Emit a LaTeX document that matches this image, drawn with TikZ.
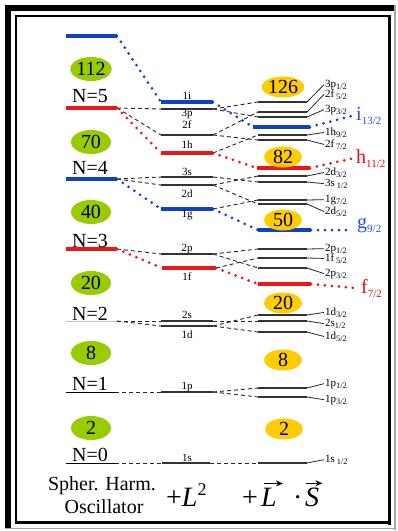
\documentclass[tikz,border=0pt]{standalone}
\usepackage{fontspec}
\setmainfont{Liberation Serif}
\usetikzlibrary{shapes.geometric,arrows.meta}
\definecolor{lvblue}{RGB}{16,64,200}
\definecolor{lvred}{RGB}{240,20,20}
\definecolor{labblue}{RGB}{40,80,225}
\definecolor{labred}{RGB}{245,10,10}
\definecolor{shgreen}{RGB}{153,204,0}
\definecolor{shyellow}{RGB}{255,204,0}
\newcommand{\lvl}[5]{%
  \coordinate (#1-l) at (#2,#4);
  \coordinate (#1-r) at (#3,#4);
  \draw[#5] (#1-l) -- (#1-r);}
\newcommand{\lsub}[1]{\raisebox{-2.5pt}{\fontsize{8.3}{8.3}\selectfont #1}}
\newcommand{\bsub}[1]{\raisebox{-4.5pt}{\fontsize{11}{11}\selectfont #1}}
\begin{document}
\begin{tikzpicture}[x=1pt,y=-1pt,
  lvthin/.style={draw=black!80, line width=1.3pt},
  lvb/.style={draw=lvblue, line width=4.5pt},
  lvr/.style={draw=lvred, line width=4.5pt},
  lvbo/.style={draw=lvblue, line width=3.5pt},
  lvro/.style={draw=lvred, line width=3.5pt},
  osc/.style={draw=black, line width=1pt},
  dashc/.style={draw=black!85, line width=0.9pt, dash pattern=on 4pt off 3pt},
  dotb/.style={draw=lvblue, line width=3pt, line cap=round, dash pattern=on 0pt off 7pt},
  dotr/.style={draw=lvred, line width=3pt, line cap=round, dash pattern=on 0pt off 7pt},
  tie/.style={draw=black!85, line width=0.8pt},
  labtwo/.style={anchor=base, inner sep=0pt, font=\fontsize{11}{11}\selectfont},
  labthree/.style={anchor=base west, inner sep=0pt, font=\fontsize{11}{11}\selectfont},
  big/.style={font=\fontsize{20}{20}\selectfont, inner sep=0pt},
  captxt/.style={font=\fontsize{28}{28}\selectfont, inner sep=0pt, anchor=base west},
  vecarrow/.style={draw=black, line width=1.3pt, -{Stealth[length=7pt,width=6pt]}},
  gshell/.style={ellipse, fill=shgreen, minimum width=40pt, minimum height=24pt, inner sep=0pt, font=\fontsize{20}{20}\selectfont},
  yshell/.style={ellipse, fill=shyellow, minimum width=38pt, minimum height=21pt, inner sep=0pt, font=\fontsize{20}{20}\selectfont}
]
\useasboundingbox (0,0) rectangle (398,531);
\fill[white] (0,0) rectangle (398,531);
% frame
\draw[line width=6pt] (5,8) -- (395,8);
\draw[line width=6pt] (8,5) -- (8,528);
\draw[black!35, line width=1.5pt] (395,5) -- (395,529.5);
\draw[black!35, line width=1.5pt] (5,528.5) -- (396,528.5);
\draw[line width=2pt] (15,16) -- (389.5,16);
\draw[line width=2pt] (16,15) -- (16,522.7);
\draw[line width=3.5pt] (389.5,14.5) -- (389.5,524.5);
\draw[line width=3.5pt] (15,522.7) -- (391.2,522.7);

% column 1
\lvl{o6}{66}{117}{36}{lvbo}
\lvl{o5}{66}{117}{108}{lvro}
\lvl{o4}{66}{117}{179}{lvbo}
\lvl{o3}{66}{117}{249}{lvro}
\lvl{o2}{66}{117}{321}{draw=black!25, line width=0.8pt}
\lvl{o1}{66}{115}{392}{osc}
\lvl{o0}{66}{115}{463}{osc}

% column 2
\lvl{a1i}{161}{213}{102}{lvb}
\lvl{a3p}{161}{213}{109}{lvthin}
\lvl{a2f}{161}{213}{135}{lvthin}
\lvl{a1h}{161}{213}{153}{lvr}
\lvl{a3s}{161}{213}{177}{lvthin}
\lvl{a2d}{161}{213}{185}{lvthin}
\lvl{a1g}{161}{213}{209}{lvb}
\lvl{a2p}{161}{213}{254}{lvthin}
\lvl{a1f}{162}{216}{268}{lvr}
\lvl{a2s}{161}{213}{321}{lvthin}
\lvl{a1d}{161}{213}{326}{lvthin}
\lvl{a1p}{161}{213}{392}{lvthin}
\lvl{a1s}{162}{210}{463}{lvthin}

% column 3
\lvl{b3p1}{258}{307}{102}{lvthin}
\lvl{b2f5}{258}{307}{112}{lvthin}
\lvl{b3p3}{258}{307}{117}{lvthin}
\lvl{bi13}{253}{310}{127}{lvb}
\lvl{b1h9}{258}{307}{135}{lvthin}
\lvl{b2f7}{258}{307}{140}{lvthin}
\lvl{bh11}{257}{310}{168}{lvr}
\lvl{b2d3}{258}{307}{176}{lvthin}
\lvl{b3s1}{258}{307}{182}{lvthin}
\lvl{b1g7}{258}{307}{200}{lvthin}
\lvl{b2d5}{258}{307}{204}{lvthin}
\lvl{bg9}{258}{311}{230}{lvb}
\lvl{b2p1}{258}{307}{249}{lvthin}
\lvl{b1f5}{258}{307}{258}{lvthin}
\lvl{b2p3}{258}{307}{268}{lvthin}
\lvl{bf7}{258}{311}{284}{lvr}
\lvl{b1d3}{258}{307}{315}{lvthin}
\lvl{b2s1}{258}{307}{321}{lvthin}
\lvl{b1d5}{258}{307}{332}{lvthin}
\lvl{b1p1}{258}{307}{388}{lvthin}
\lvl{b1p3}{258}{307}{397}{lvthin}
\lvl{b1s1}{258}{307}{463}{lvthin}

% connectors column 1 -> column 2
\draw[dashc] (o5-r) -- (a3p-l);
\draw[dashc] (o5-r) -- (a2f-l);
\draw[dashc] (o4-r) -- (a3s-l);
\draw[dashc] (o4-r) -- (a2d-l);
\draw[dashc] (o3-r) -- (a2p-l);
\draw[dashc] (o2-r) -- (a2s-l);
\draw[dashc] (o2-r) -- (a1d-l);
\draw[dashc] (o1-r) -- (a1p-l);
\draw[dashc] (o0-r) -- (a1s-l);
\draw[dotb] (o6-r) -- (a1i-l);
\draw[dotr] (o5-r) -- (a1h-l);
\draw[dotb] (o4-r) -- (a1g-l);
\draw[dotr] (o3-r) -- (a1f-l);

% connectors column 2 -> column 3
\draw[dashc] (a3p-r) -- (b3p1-l);
\draw[dashc] (a3p-r) -- (b3p3-l);
\draw[dashc] (a2f-r) -- (b2f5-l);
\draw[dashc] (a2f-r) -- (b2f7-l);
\draw[dashc] (a1h-r) -- (b1h9-l);
\draw[dashc] (a3s-r) -- (b3s1-l);
\draw[dashc] (a2d-r) -- (b2d3-l);
\draw[dashc] (a2d-r) -- (b2d5-l);
\draw[dashc] (a1g-r) -- (b1g7-l);
\draw[dashc] (a2p-r) -- (b2p1-l);
\draw[dashc] (a2p-r) -- (b2p3-l);
\draw[dashc] (a1f-r) -- (b1f5-l);
\draw[dashc] (a2s-r) -- (b2s1-l);
\draw[dashc] (a1d-r) -- (b1d3-l);
\draw[dashc] (a1d-r) -- (b1d5-l);
\draw[dashc] (a1p-r) -- (b1p1-l);
\draw[dashc] (a1p-r) -- (b1p3-l);
\draw[dashc] (a1s-r) -- (b1s1-l);
\draw[dotb] (a1i-r) -- (bi13-l);
\draw[dotr] (a1h-r) -- (bh11-l);
\draw[dotb] (a1g-r) -- (bg9-l);
\draw[dotr] (a1f-r) -- (bf7-l);

% N labels
\node[big, anchor=base] (n5) at (90,102) {N=5};
\node[big, anchor=base] (n4) at (90,174) {N=4};
\node[big, anchor=base] (n3) at (90,247) {N=3};
\node[big, anchor=base] (n2) at (90,320) {N=2};
\node[big, anchor=base] (n1) at (90,390) {N=1};
\node[big, anchor=base] (n0) at (90,461) {N=0};

% shell closures
\node[gshell] (g112) at (91,69) {112};
\node[gshell] (g70) at (91,142) {70};
\node[gshell] (g40) at (91,212) {40};
\node[gshell] (g20) at (91,283) {20};
\node[gshell] (g8) at (91,353) {8};
\node[gshell] (g2) at (91,428) {2};
\node[yshell] (y126) at (283,87) {126};
\node[yshell] (y82) at (283,157) {82};
\node[yshell] (y50) at (283,220) {50};
\node[yshell] (y20) at (283,303) {20};
\node[yshell] (y8) at (283,360) {8};
\node[yshell] (y2) at (284,429) {2};

% column 2 labels
\node[labtwo] (t1i) at (187,99.5) {1i};
\node[labtwo] (t3p) at (187,116) {3p};
\node[labtwo] (t2f) at (187,128) {2f};
\node[labtwo] (t1h) at (187,148) {1h};
\node[labtwo] (t3s) at (187,175.5) {3s};
\node[labtwo] (t2d) at (187,197) {2d};
\node[labtwo] (t1g) at (187,217) {1g};
\node[labtwo] (t2p) at (187,251) {2p};
\node[labtwo] (t1f) at (187,280) {1f};
\node[labtwo] (t2s) at (187,318) {2s};
\node[labtwo] (t1d) at (187,338) {1d};
\node[labtwo] (t1p) at (187,389) {1p};
\node[labtwo] (t1s) at (187,461) {1s};

% column 3 labels
\node[labthree] (l3p1) at (325,87) {3p\lsub{1/2}};
\node[labthree] (l2f5) at (325,97) {2f\,\lsub{5/2}};
\node[labthree] (l3p3) at (325,112) {3p\lsub{3/2}};
\node[labthree] (l1h9) at (325,135) {1h\lsub{9/2}};
\node[labthree] (l2f7) at (325,147) {2f\,\lsub{7/2}};
\node[labthree] (l2d3) at (325,175) {2d\lsub{3/2}};
\node[labthree] (l3s1) at (325,186) {3s\,\lsub{1/2}};
\node[labthree] (l1g7) at (325,202) {1g\lsub{7/2}};
\node[labthree] (l2d5) at (325,214) {2d\lsub{5/2}};
\node[labthree] (l2p1) at (325,251) {2p\lsub{1/2}};
\node[labthree] (l1f5) at (325,261) {1f\,\lsub{5/2}};
\node[labthree] (l2p3) at (325,276) {2p\lsub{3/2}};
\node[labthree] (l1d3) at (325,315) {1d\lsub{3/2}};
\node[labthree] (l2s1) at (325,326) {2s\lsub{1/2}};
\node[labthree] (l1d5) at (325,339) {1d\lsub{5/2}};
\node[labthree] (l1p1) at (325,386) {1p\lsub{1/2}};
\node[labthree] (l1p3) at (325,402) {1p\lsub{3/2}};
\node[labthree] (l1s1) at (325,462) {1s\,\lsub{1/2}};

\foreach \a/\b in {b3p1/l3p1,b2f5/l2f5,b3p3/l3p3,b1h9/l1h9,b2f7/l2f7,b2d3/l2d3,b3s1/l3s1,b1g7/l1g7,b2d5/l2d5,b2p1/l2p1,b1f5/l1f5,b2p3/l2p3,b1d3/l1d3,b2s1/l2s1,b1d5/l1d5,b1p1/l1p1,b1p3/l1p3,b1s1/l1s1}
  \draw[tie] (\a-r) -- ([xshift=-1pt]\b.west);

% intruder labels
\node[big, anchor=base west, text=labblue] (li) at (356,120) {i\bsub{13/2}};
\node[big, anchor=base west, text=labred] (lh) at (356,163) {h\bsub{11/2}};
\node[big, anchor=base west, text=labblue] (lg) at (357,228) {g\bsub{9/2}};
\node[big, anchor=base west, text=labred] (lf) at (361,293) {f\bsub{7/2}};
\draw[dotb] (bi13-r) -- ([xshift=-3pt]li.west);
\draw[dotr] (bh11-r) -- ([xshift=-3pt]lh.west);
\draw[dotb] (bg9-r) -- ([xshift=-4pt]lg.west |- bg9-r);
\draw[dotr] (bf7-r) -- ([xshift=-4pt]lf.west);

% bottom captions
\node[big, anchor=base] (cap1) at (102,490) {Spher. Harm.};
\node[big, anchor=base] (cap2) at (104,513) {Oscillator};
\node[captxt] (cap3) at (166,506) {+\textit{L}\raisebox{11pt}{\fontsize{18}{18}\selectfont 2}};
\node[captxt] (plus) at (242,506) {+};
\node[captxt] (vL) at (261,506) {\textit{L}};
\node[captxt] (cdot) at (293,506) {·};
\node[captxt] (vS) at (305,506) {\textit{S}};
\draw[vecarrow] ([shift={(3,-4)}]vL.north west) -- ([shift={(6,-4)}]vL.north east);
\draw[vecarrow] ([shift={(1,-4)}]vS.north west) -- ([shift={(3,-4)}]vS.north east);
\end{tikzpicture}
\end{document}
